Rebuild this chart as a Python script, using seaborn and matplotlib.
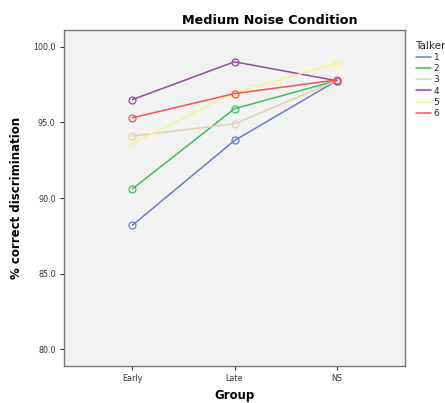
import pandas as pd
import numpy as np
import matplotlib.pyplot as plt
from matplotlib.lines import Line2D
import seaborn as sns

# values
groups = ['Early', 'Late', 'NS']
talkers = ['1', '2', '3', '4', '5', '6']
scores = {
    '1': [88.2, 93.8, 97.75],
    '2': [90.6, 95.9, 97.75],
    '3': [94.1, 94.9, 97.75],
    '4': [96.5, 99.0, 97.75],
    '5': [93.6, 96.95, 98.9],
    '6': [95.3, 96.9, 97.8],
}
colors = ['#6a7cc8', '#3fbf5a', '#d9d4b2', '#9747a0', '#f9f48a', '#f25458']

rows = []
for t in talkers:
    for g, v in zip(groups, scores[t]):
        rows.append({'Group': g, 'Talker': t, 'pct': v})
df = pd.DataFrame(rows)
df['x'] = df['Group'].map({g: i for i, g in enumerate(groups)})

sns.set_style('white')
plt.rcParams['font.family'] = ['DejaVu Sans']

fig = plt.figure(figsize=(4.45, 4.03), dpi=100)
ax = fig.add_axes([64/445, 1 - 366/403, (405-64)/445, (366-30)/403])
ax.set_facecolor('#f2f2f2')

sns.lineplot(data=df, x='x', y='pct', hue='Talker', palette=colors,
             marker='o', markersize=5, markerfacecolor='none',
             markeredgewidth=0.9, linewidth=1.1, legend=False, ax=ax)
for line, c in zip(ax.lines, colors):
    line.set_markeredgecolor(c)

ax.set_xlim(-0.67, 2.67)
ax.set_ylim(78.9, 101.1)
ax.set_xticks(range(len(groups)))
ax.set_xticklabels(groups)
ax.set_yticks([80, 85, 90, 95, 100])
ax.set_yticklabels(['80.0', '85.0', '90.0', '95.0', '100.0'])
ax.tick_params(axis='both', labelsize=5.8, length=3, width=0.8, colors='#333333',
               direction='out', bottom=True, left=True, pad=3)
for s in ax.spines.values():
    s.set_color('#777777')
    s.set_linewidth(1.0)

ax.set_xlabel('Group', fontsize=8.5, fontweight='bold', labelpad=4, color='black')
ax.set_ylabel('% correct discrimination', fontsize=8.5, fontweight='bold',
              labelpad=7, color='black')
fig.text(270/445, 1 - 20/403, 'Medium Noise Condition', fontsize=9.2,
         fontweight='bold', ha='center', va='center', color='black')

handles = [Line2D([0], [0], color=c, lw=1.1) for c in colors]
leg = fig.legend(handles, talkers, title='Talker', loc='upper left',
                 bbox_to_anchor=(411/445, 1 - 36/403), frameon=False,
                 fontsize=6.5, title_fontsize=7.5, handlelength=1.7,
                 handletextpad=0.3, labelspacing=0.25, borderpad=0)
leg._legend_box.align = 'left'

fig.savefig('out.png', dpi=100)
